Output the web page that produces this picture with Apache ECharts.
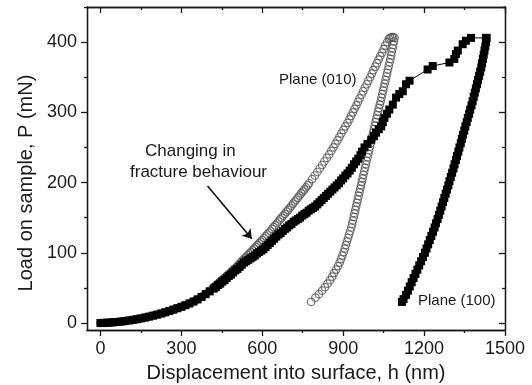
<!DOCTYPE html>
<html>
<head>
<meta charset="utf-8">
<script src="https://cdn.jsdelivr.net/npm/echarts@6/dist/echarts.min.js"></script>
<style>
  html, body { margin: 0; padding: 0; background: #fff; }
  #chart { width: 532px; height: 385px; }
</style>
</head>
<body>
<div id="chart"></div>
<script>
// tick values
const xTicks = [0, 300, 600, 900, 1200, 1500];
const xMinorTicks = [150, 450, 750, 1050, 1350];
const yTicks = [0, 100, 200, 300, 400];
const yMinorTicks = [50, 150, 250, 350, 450];

// Plane (010): [h (nm), P (mN)]
const plane010Loading = [
  [0, 0], [15, 0.2], [30, 0.5], [45, 0.9], [60, 1.4], [75, 2], [90, 2.7], [105, 3.5], [120, 4.4],
  [135, 5.4], [150, 6.5], [165, 7.7], [180, 9], [195, 10.4], [210, 11.9], [225, 13.5], [240, 15.2],
  [255, 17], [270, 19], [285, 21], [300, 23.2], [315, 25.5], [330, 28], [345, 30.8], [360, 34],
  [375, 37.5], [390, 41.5], [405, 46], [420, 51], [426, 53], [432, 55], [438, 57], [444, 59],
  [450, 61], [456, 63], [462, 65], [468, 67], [474, 69], [480, 71], [486, 73.5], [492, 75.5],
  [498, 77.5], [504, 79.5], [510, 82], [516, 84.5], [522, 87], [528, 89.5], [534, 92], [540, 94],
  [546, 96.5], [552, 99], [558, 101], [564, 103.5], [570, 106], [576, 108.5], [582, 111],
  [588, 113.5], [594, 116], [600, 118], [606, 121], [612, 123.5], [618, 126], [624, 128.5],
  [630, 131], [636, 134], [642, 136.5], [648, 139], [654, 142], [660, 144.5], [666, 147.5],
  [672, 150], [678, 153], [684, 155.5], [690, 158.5], [696, 161], [702, 164], [708, 167],
  [714, 170], [720, 173], [726, 175.5], [732, 178.5], [738, 181.5], [744, 184.5], [750, 187.5],
  [756, 190], [762, 193], [768, 196], [774, 199],
  [785, 205], [795, 210], [804, 215], [813, 220], [822, 225], [830, 230], [839, 235], [848, 240],
  [856, 245], [864, 250], [871, 255], [879, 260], [886, 265], [893, 270], [901, 275], [908, 280],
  [916, 285], [923, 290], [929, 295], [936, 300], [942, 305], [949, 310], [955, 315], [961, 320],
  [968, 325], [974, 330], [980, 335], [987, 340], [993, 345], [1000, 350], [1006, 355],
  [1012, 360], [1019, 365], [1025, 370], [1031, 375], [1037, 380], [1044, 385], [1050, 390],
  [1056, 395], [1063, 400], [1070, 405], [1075, 406], [1080, 407], [1085, 407]
];
const plane010Unloading = [
  [1090, 406], [1088, 401], [1085, 396], [1083, 391], [1080, 386], [1078, 381], [1075, 376],
  [1072, 371], [1069, 366], [1066, 361], [1063, 356], [1060, 351], [1057, 346], [1054, 341],
  [1051, 336], [1048, 331], [1045, 326], [1042, 321], [1039, 316], [1036, 311], [1032, 306],
  [1029, 301], [1026, 296], [1023, 291], [1020, 286], [1017, 281], [1014, 276], [1011, 271],
  [1008, 266], [1005, 261], [1002, 256], [999, 251], [996, 246], [993, 241], [990, 236],
  [987, 231], [984, 226], [981, 221], [978, 216], [975, 211], [972, 206], [969, 201], [966, 196],
  [963, 191], [960, 186], [957, 181], [954, 176], [951, 171], [948, 166], [945, 161], [942, 156],
  [939, 151], [936, 146], [933, 141], [930, 136], [926, 131], [922, 126], [918, 121], [914, 116],
  [910, 111], [906, 106], [902, 101], [897, 96], [892, 91], [887, 86], [881, 81], [874, 76],
  [866, 71], [859, 66], [851, 61], [842, 56], [832, 51], [822, 46], [810, 41], [797, 36], [781, 30]
];

// Plane (100): [h (nm), P (mN)]
const plane100Loading = [
  [0, 0], [15, 0.2], [30, 0.5], [45, 0.9], [60, 1.4], [75, 2], [90, 2.7], [105, 3.5], [120, 4.4],
  [135, 5.4], [150, 6.5], [165, 7.7], [180, 9], [195, 10.4], [210, 11.9], [225, 13.5], [240, 15.2],
  [255, 17], [270, 19], [285, 21], [300, 23], [315, 25.3], [330, 27.8], [345, 30.5],
  [360, 33.5], [375, 37], [390, 41], [405, 45], [420, 49], [428, 51], [436, 54], [444, 56],
  [452, 59], [460, 61], [468, 64], [476, 67], [484, 69], [492, 72], [500, 75], [508, 77],
  [516, 80], [524, 83], [532, 86], [540, 88], [548, 90], [556, 92], [564, 94], [572, 96],
  [580, 99], [588, 101], [596, 103], [604, 105], [612, 108], [620, 111], [628, 114], [636, 117],
  [644, 120], [652, 123], [660, 126], [668, 128], [676, 131], [684, 134], [692, 136], [700, 139],
  [708, 141], [716, 144], [724, 146], [732, 148], [740, 150], [748, 153], [756, 155], [764, 157],
  [772, 160], [780, 162], [788, 164], [796, 166], [804, 169], [812, 172], [820, 175], [828, 178],
  [836, 181], [844, 184], [852, 187], [860, 190], [868, 193], [876, 196], [884, 199], [892, 203],
  [900, 206], [908, 210], [916, 213], [924, 217], [932, 221], [940, 226], [948, 230], [956, 234],
  [964, 239], [970, 244], [979, 250], [990, 255], [1004, 261], [1014, 266], [1022, 271],
  [1032, 276], [1041, 280], [1047, 286], [1053, 292], [1062, 298], [1071, 304], [1084, 311],
  [1096, 321], [1108, 326], [1121, 330], [1133, 340], [1146, 345], [1213, 361], [1232, 366],
  [1294, 371], [1312, 376], [1318, 383], [1325, 388], [1343, 397], [1355, 402], [1374, 406],
  [1429, 406]
];
const plane100Unloading = [
  [1432, 406], [1430, 400], [1427, 394], [1424, 388], [1421, 382], [1418, 376], [1415, 370],
  [1412, 364], [1408, 358], [1404, 352], [1400, 346], [1396, 340], [1392, 334], [1388, 328],
  [1384, 322], [1380, 316], [1376, 310], [1371, 304], [1367, 298], [1362, 292], [1358, 286],
  [1353, 280], [1349, 274], [1344, 268], [1340, 262], [1336, 256], [1331, 250], [1327, 244],
  [1322, 238], [1318, 232], [1313, 226], [1309, 220], [1304, 214], [1299, 208], [1294, 202],
  [1290, 196], [1285, 190], [1280, 184], [1275, 178], [1270, 172], [1265, 166], [1260, 160],
  [1255, 154], [1250, 148], [1244, 142], [1239, 136], [1233, 130], [1227, 124], [1221, 118],
  [1215, 112], [1209, 106], [1203, 100], [1196, 94], [1189, 88], [1182, 82], [1175, 76],
  [1168, 70], [1161, 64], [1154, 58], [1147, 52], [1140, 46], [1133, 40], [1124, 34], [1118, 30]
];

const FONT = '"Liberation Sans", Arial, Helvetica, sans-serif';
const INK = '#1a1a1a';

function xAxisDef(position, ticks, len, inside, labels) {
  return {
    type: 'value', position: position, min: -50, max: 1500, gridIndex: 0,
    axisLine: { show: true, onZero: false, lineStyle: { color: INK, width: 1.3 } },
    axisTick: { show: true, inside: inside, length: len, customValues: ticks, lineStyle: { color: INK, width: 1.3 } },
    axisLabel: labels
      ? { show: true, customValues: ticks, margin: 10, color: INK, fontSize: 18, fontFamily: FONT,
          formatter: (v) => String(v) }
      : { show: false },
    splitLine: { show: false }
  };
}

function yAxisDef(position, ticks, len, inside, labels) {
  return {
    type: 'value', position: position, min: -10, max: 450, gridIndex: 0,
    axisLine: { show: true, onZero: false, lineStyle: { color: INK, width: 1.3 } },
    axisTick: { show: true, inside: inside, length: len, customValues: ticks, lineStyle: { color: INK, width: 1.3 } },
    axisLabel: labels
      ? { show: true, customValues: ticks, margin: 10, color: INK, fontSize: 18, fontFamily: FONT,
          formatter: (v) => String(v) }
      : { show: false },
    splitLine: { show: false }
  };
}

const chart = echarts.init(document.getElementById('chart'), null, { renderer: 'canvas' });

chart.setOption({
  animation: false,
  backgroundColor: '#fff',
  // keep the plot box fixed, labels and names may sit outside it
  grid: { left: 87, right: 27, top: 7, bottom: 55, containLabel: false, outerBoundsMode: 'none' },
  xAxis: [
    Object.assign(xAxisDef('bottom', xTicks, 6, false, true), {
      name: 'Displacement into surface, h (nm)',
      nameLocation: 'middle',
      nameGap: 33,
      nameTextStyle: { color: INK, fontSize: 20, fontFamily: FONT }
    }),
    xAxisDef('bottom', xMinorTicks, 3, false, false),
    xAxisDef('top', xTicks, 6, true, false),
    xAxisDef('top', xMinorTicks, 3, true, false)
  ],
  yAxis: [
    yAxisDef('left', yTicks, 6, false, true),
    yAxisDef('left', yMinorTicks, 3, false, false),
    yAxisDef('right', yTicks, 6, true, false),
    yAxisDef('right', yMinorTicks, 3, true, false)
  ],
  series: [
    {
      name: 'Plane (100)',
      type: 'line',
      xAxisIndex: 0,
      yAxisIndex: 0,
      data: plane100Loading.concat(plane100Unloading),
      symbol: 'rect',
      symbolSize: 8,
      showAllSymbol: true,
      itemStyle: { color: '#000' },
      lineStyle: { color: '#000', width: 1 }
    },
    {
      name: 'Plane (010)',
      type: 'scatter',
      xAxisIndex: 0,
      yAxisIndex: 0,
      data: plane010Loading.concat(plane010Unloading),
      symbol: 'circle',
      symbolSize: 7.5,
      itemStyle: { color: 'rgba(255,255,255,0)', borderColor: '#555', borderWidth: 1.2 },
      markLine: {
        silent: true,
        symbol: ['none', 'arrow'],
        symbolSize: 9,
        label: { show: false },
        lineStyle: { color: '#111', width: 1.6, type: 'solid' },
        data: [[{ coord: [397, 195] }, { coord: [561, 120] }]]
      }
    }
  ],
  graphic: [
    {
      type: 'text', x: 26, y: 183, rotation: Math.PI / 2,
      style: { text: 'Load on sample, P (mN)', font: '20px ' + FONT, fill: INK,
        textAlign: 'center', align: 'center', textVerticalAlign: 'middle', verticalAlign: 'middle' }
    },
    {
      type: 'text', x: 279, y: 80,
      style: { text: 'Plane (010)', font: '15px ' + FONT, fill: INK,
        textAlign: 'left', align: 'left', textVerticalAlign: 'middle', verticalAlign: 'middle' }
    },
    {
      type: 'text', x: 418, y: 301,
      style: { text: 'Plane (100)', font: '15px ' + FONT, fill: INK,
        textAlign: 'left', align: 'left', textVerticalAlign: 'middle', verticalAlign: 'middle' }
    },
    {
      type: 'text', x: 145, y: 151,
      style: { text: 'Changing in', font: '17px ' + FONT, fill: INK,
        textAlign: 'left', align: 'left', textVerticalAlign: 'middle', verticalAlign: 'middle' }
    },
    {
      type: 'text', x: 130, y: 172,
      style: { text: 'fracture behaviour', font: '17px ' + FONT, fill: INK,
        textAlign: 'left', align: 'left', textVerticalAlign: 'middle', verticalAlign: 'middle' }
    }
  ]
});
</script>
</body>
</html>
